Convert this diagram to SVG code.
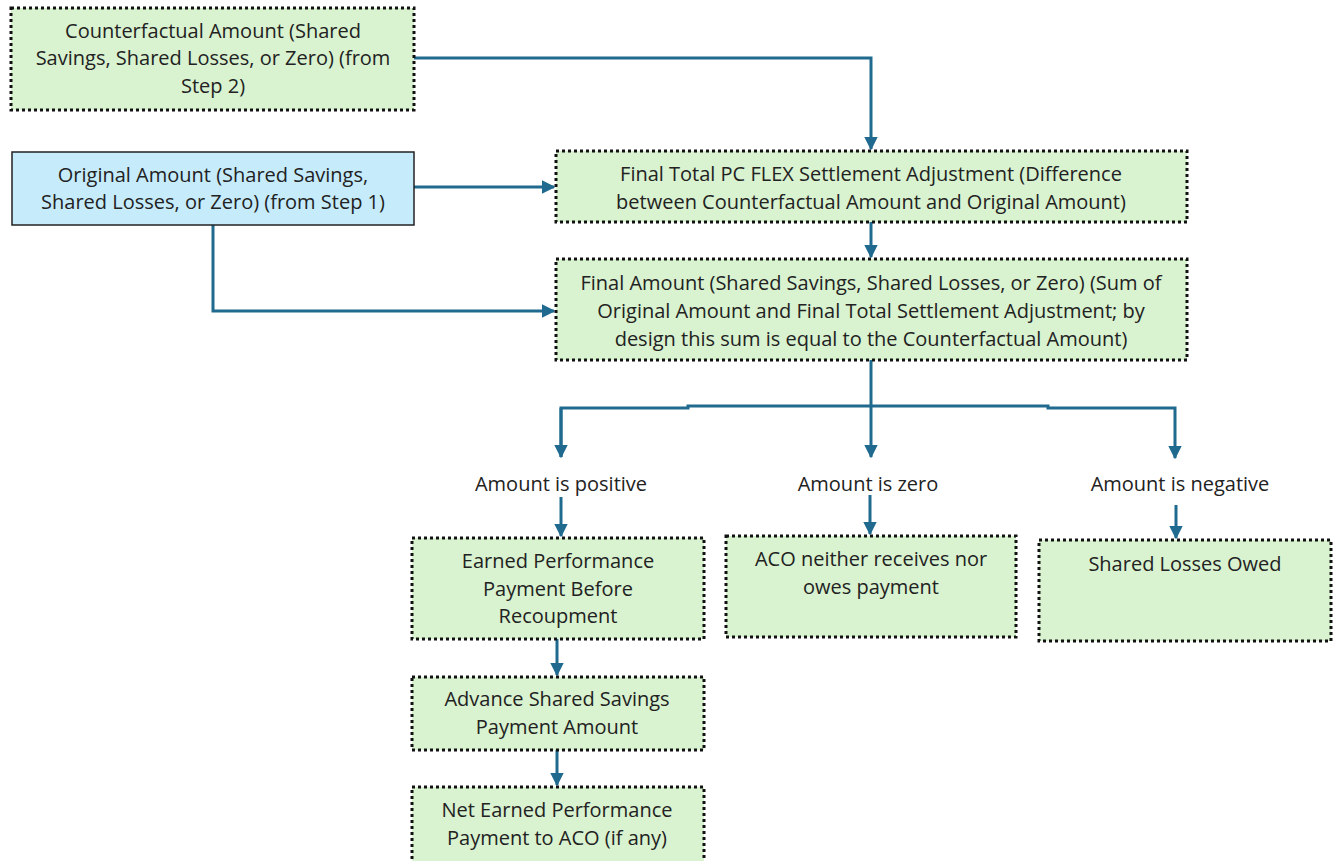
<svg xmlns="http://www.w3.org/2000/svg" width="1339" height="861" viewBox="0 0 1339 861">
  <style>
    .box { fill: #d9f2d0; stroke: #111; stroke-width: 3; stroke-dasharray: 3 3; }
    .src { fill: #c6ecfb; stroke: #222; stroke-width: 1.5; }
    text { font-family: "Open Sans", "Noto Sans", sans-serif; font-size: 20px; fill: #222; text-anchor: middle; }
    .wire { fill: none; stroke: #1f6a8e; stroke-width: 3; }
  </style>
  <defs>
    <marker id="arrow" viewBox="0 0 10 10" refX="9" refY="5" markerWidth="4.5" markerHeight="4.5" orient="auto" markerUnits="strokeWidth">
      <path d="M0,0 L10,5 L0,10 z" fill="#1f6a8e"/>
    </marker>
  </defs>
  <rect width="1339" height="861" fill="#fff"/>

  <g id="connectors">
    <path class="wire" d="M414,58 H871 V149" marker-end="url(#arrow)"/>
    <path class="wire" d="M414,187 H554" marker-end="url(#arrow)"/>
    <path class="wire" d="M213,225 V311 H554" marker-end="url(#arrow)"/>
    <path class="wire" d="M871,222 V257" marker-end="url(#arrow)"/>
    <path class="wire" d="M871,360 V457" marker-end="url(#arrow)"/>
    <path class="wire" d="M561,457 V408 H688 V406 H1048 V408 H1175 V458" marker-end="url(#arrow)"/>
    <path class="wire" d="M561,408 V457" marker-end="url(#arrow)"/>
    <path class="wire" d="M561,497 V536" marker-end="url(#arrow)"/>
    <path class="wire" d="M870,495 V534" marker-end="url(#arrow)"/>
    <path class="wire" d="M1176,505 V538" marker-end="url(#arrow)"/>
    <path class="wire" d="M557,639 V675" marker-end="url(#arrow)"/>
    <path class="wire" d="M557,750 V785" marker-end="url(#arrow)"/>
  </g>

  <g id="counterfactual">
    <rect class="box" x="11" y="8" width="403" height="102"/>
    <text x="213" y="38">Counterfactual Amount (Shared</text>
    <text x="213" y="65">Savings, Shared Losses, or Zero) (from</text>
    <text x="213" y="93">Step 2)</text>
  </g>

  <g id="original">
    <rect class="src" x="12" y="152" width="402" height="73"/>
    <text x="213" y="182">Original Amount (Shared Savings,</text>
    <text x="213" y="209">Shared Losses, or Zero) (from Step 1)</text>
  </g>

  <g id="adjustment">
    <rect class="box" x="556" y="151" width="631" height="71"/>
    <text x="871" y="181">Final Total PC FLEX Settlement Adjustment (Difference</text>
    <text x="871" y="209">between Counterfactual Amount and Original Amount)</text>
  </g>

  <g id="final-amount">
    <rect class="box" x="556" y="259" width="631" height="101"/>
    <text x="871" y="290">Final Amount (Shared Savings, Shared Losses, or Zero) (Sum of</text>
    <text x="871" y="318">Original Amount and Final Total Settlement Adjustment; by</text>
    <text x="871" y="346">design this sum is equal to the Counterfactual Amount)</text>
  </g>

  <g id="label-positive"><text x="561" y="491">Amount is positive</text></g>
  <g id="label-zero"><text x="868" y="491">Amount is zero</text></g>
  <g id="label-negative"><text x="1180" y="491">Amount is negative</text></g>

  <g id="earned">
    <rect class="box" x="412" y="538" width="292" height="101"/>
    <text x="558" y="568">Earned Performance</text>
    <text x="558" y="596">Payment Before</text>
    <text x="558" y="623">Recoupment</text>
  </g>

  <g id="neither">
    <rect class="box" x="726" y="536" width="290" height="101"/>
    <text x="871" y="566">ACO neither receives nor</text>
    <text x="871" y="594">owes payment</text>
  </g>

  <g id="losses">
    <rect class="box" x="1039" y="540" width="292" height="101"/>
    <text x="1185" y="571">Shared Losses Owed</text>
  </g>

  <g id="advance">
    <rect class="box" x="412" y="677" width="292" height="73"/>
    <text x="557" y="706">Advance Shared Savings</text>
    <text x="557" y="734">Payment Amount</text>
  </g>

  <g id="net">
    <rect class="box" x="412" y="787" width="292" height="80"/>
    <text x="557" y="817">Net Earned Performance</text>
    <text x="557" y="845">Payment to ACO (if any)</text>
  </g>
</svg>
